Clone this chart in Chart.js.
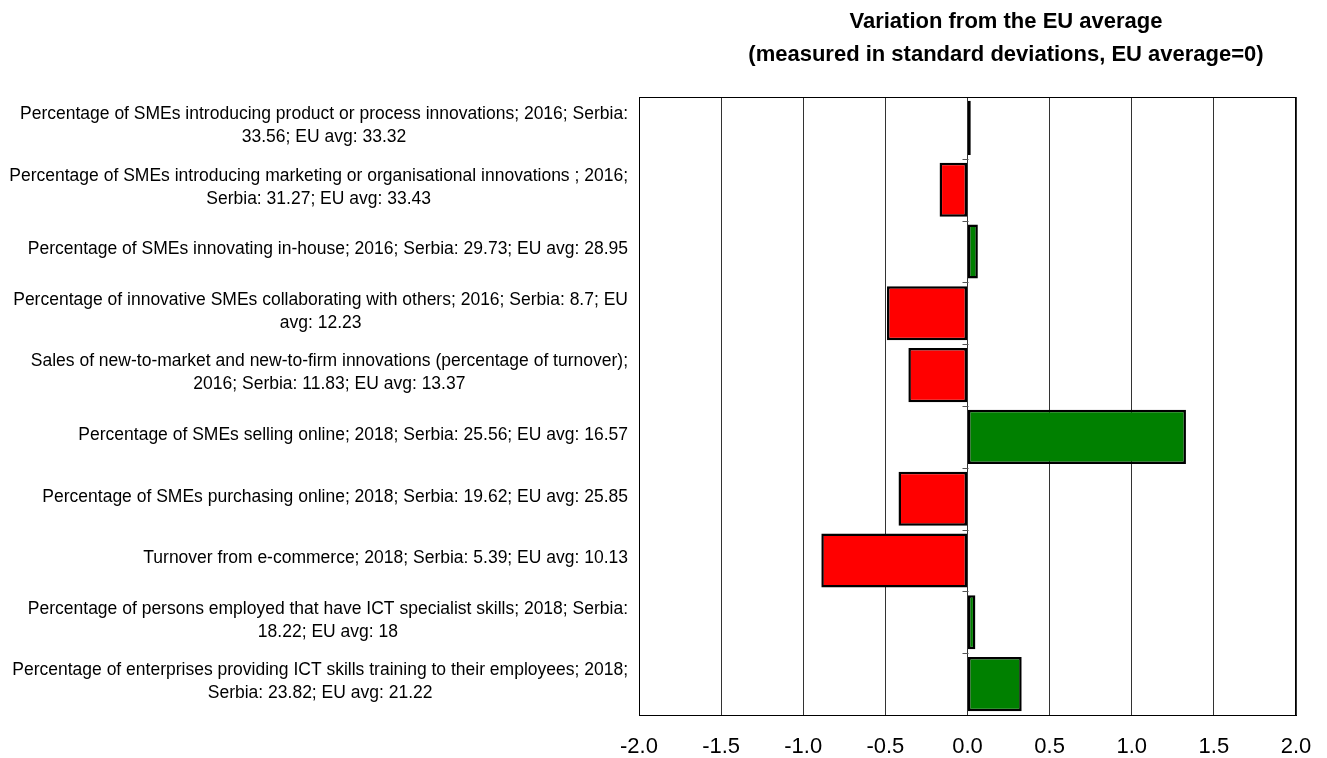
<!DOCTYPE html>
<html>
<head>
<meta charset="utf-8">
<script src="https://cdn.jsdelivr.net/npm/chart.js@4/dist/chart.umd.min.js"></script>
<style>
  body { margin: 0; background: #fff; }
  #wrap { width: 1327px; height: 758px; }
</style>
</head>
<body>
<div id="wrap"><canvas id="myBarChart" width="1327" height="758"></canvas></div>
<script>
const categories = [
    ['Percentage of SMEs introducing product or process innovations; 2016; Serbia:', '33.56; EU avg: 33.32'],
    ['Percentage of SMEs introducing marketing or organisational innovations ; 2016;', 'Serbia: 31.27; EU avg: 33.43'],
    ['Percentage of SMEs innovating in-house; 2016; Serbia: 29.73; EU avg: 28.95'],
    ['Percentage of innovative SMEs collaborating with others; 2016; Serbia: 8.7; EU', 'avg: 12.23'],
    ['Sales of new-to-market and new-to-firm innovations (percentage of turnover);', '2016; Serbia: 11.83; EU avg: 13.37'],
    ['Percentage of SMEs selling online; 2018; Serbia: 25.56; EU avg: 16.57'],
    ['Percentage of SMEs purchasing online; 2018; Serbia: 19.62; EU avg: 25.85'],
    ['Turnover from e-commerce; 2018; Serbia: 5.39; EU avg: 10.13'],
    ['Percentage of persons employed that have ICT specialist skills; 2018; Serbia:', '18.22; EU avg: 18'],
    ['Percentage of enterprises providing ICT skills training to their employees; 2018;', 'Serbia: 23.82; EU avg: 21.22']
];
const deviations = [0.02, -0.17, 0.063, -0.49, -0.36, 1.33, -0.42, -0.89, 0.048, 0.33];
const xTicks = [-2.0, -1.5, -1.0, -0.5, 0.0, 0.5, 1.0, 1.5, 2.0];
const titleLines = ['Variation from the EU average', '(measured in standard deviations, EU average=0)'];

// labels: each block right aligned, lines centred inside the block
const labelPlugin = {
    id: 'labels',
    afterDraw(chart) {
        const ctx = chart.ctx;
        const yScale = chart.scales.y;
        const xScale = chart.scales.x;
        const area = chart.chartArea;
        ctx.save();
        ctx.fillStyle = '#000';
        ctx.font = '17.5px "Liberation Sans", Arial, sans-serif';
        ctx.textBaseline = 'middle';
        ctx.textAlign = 'center';
        const lineH = 23;
        categories.forEach((lines, i) => {
            const y = yScale.getPixelForTick(i);
            const w = Math.max(...lines.map(l => ctx.measureText(l).width));
            const cx = area.left - 11 - w / 2;
            const y0 = y - (lines.length - 1) * lineH / 2 - 2;
            lines.forEach((l, j) => ctx.fillText(l, cx, y0 + j * lineH));
        });
        // small marks on the zero line between categories
        const x0 = Math.round(xScale.getPixelForValue(0)) + 0.5;
        ctx.strokeStyle = '#555';
        ctx.lineWidth = 1;
        for (let i = 1; i < categories.length; i++) {
            const yb = Math.round((yScale.getPixelForTick(i - 1) + yScale.getPixelForTick(i)) / 2) + 0.5;
            ctx.beginPath();
            ctx.moveTo(x0 - 6, yb);
            ctx.lineTo(x0, yb);
            ctx.stroke();
        }
        // frame
        ctx.strokeStyle = '#000';
        ctx.strokeRect(area.left + 0.5, area.top + 0.5, area.right - area.left - 1, area.bottom - area.top);
        // title
        ctx.font = 'bold 22px "Liberation Sans", Arial, sans-serif';
        const tx = 1006;
        ctx.fillText(titleLines[0], tx, 22);
        ctx.fillText(titleLines[1], tx, 55);
        ctx.restore();
    }
};

const bar = document.getElementById('myBarChart');
const myChart = new Chart(bar, {
    type: 'bar',
    data: {
        labels: categories,
        datasets: [{
            data: deviations,
            backgroundColor: deviations.map(v => v > 0 ? '#008000' : '#ff0000'),
            borderColor: '#000',
            borderWidth: 2.5,
            borderSkipped: false,
            barPercentage: 0.875,
            categoryPercentage: 1
        }]
    },
    plugins: [labelPlugin],
    options: {
        indexAxis: 'y',
        responsive: false,
        animation: false,
        events: [],
        layout: { padding: { top: 97, right: 31, bottom: 0, left: 0 } },
        plugins: {
            legend: { display: false },
            tooltip: { enabled: false }
        },
        scales: {
            x: {
                min: -2,
                max: 2,
                afterBuildTicks: s => { s.ticks = xTicks.map(v => ({ value: v })); },
                afterFit: s => { s.height = 43; s.paddingLeft = 0; s.paddingRight = 0; },
                grid: { color: '#333', lineWidth: 1, drawTicks: false },
                border: { color: '#000' },
                ticks: {
                    color: '#000',
                    padding: 19,
                    maxRotation: 0,
                    font: { size: 22, family: '"Liberation Sans", Arial, sans-serif' },
                    callback: v => Number(v).toFixed(1)
                }
            },
            y: {
                afterFit: s => { s.width = 639; },
                grid: { display: false },
                border: { color: '#000' },
                ticks: { display: false }
            }
        }
    }
});
</script>
</body>
</html>
